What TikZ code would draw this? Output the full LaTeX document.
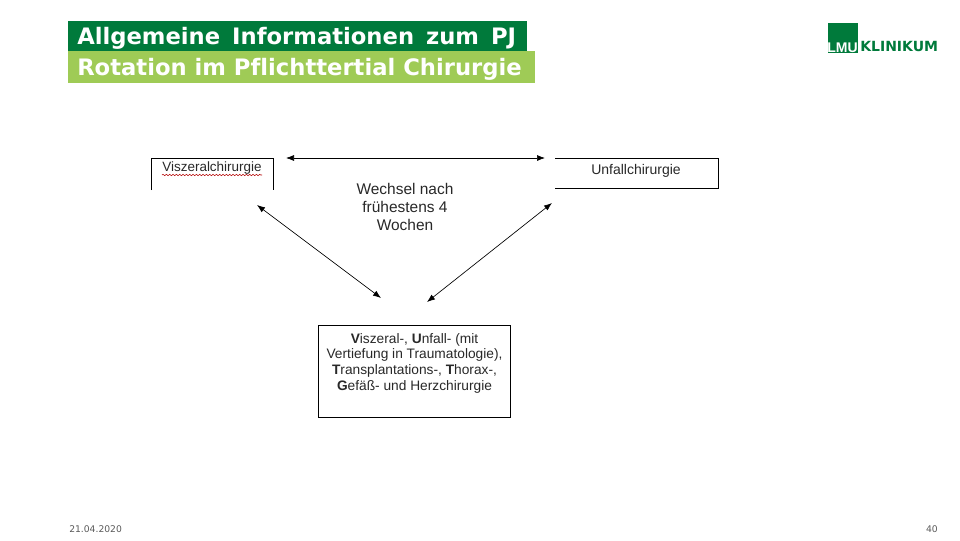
\documentclass[tikz,border=0pt]{standalone}
\usepackage{fontspec}
\setmainfont{Liberation Sans}
\newfontfamily\titlefont[Ligatures=CommonOff]{DejaVu Sans}
\usetikzlibrary{arrows.meta,positioning,decorations.pathmorphing}
\definecolor{lmudark}{RGB}{0,122,59}
\definecolor{lmulight}{RGB}{159,203,86}
\definecolor{boxtext}{RGB}{40,40,40}
\begin{document}
\begin{tikzpicture}[
  x=0.75pt,y=-0.75pt,
  titlebar/.style={anchor=west,inner sep=0pt,text=white,font=\titlefont\bfseries\fontsize{17}{20}\selectfont},
  boxlabel/.style={inner sep=0pt,text=boxtext,font=\fontsize{10.3}{11.8}\selectfont,align=center},
  footer/.style={inner sep=0pt,text=black!65,font=\titlefont\fontsize{6.9}{8}\selectfont},
  frame/.style={draw=black,line width=0.75pt},
  swap/.style={black,line width=0.5pt,{Latex[length=6pt,width=4.5pt]}-{Latex[length=6pt,width=4.5pt]}},
  ]
  \useasboundingbox (0,0) rectangle (960,540);
  %Title
  \fill[lmudark] (68,21) rectangle (527,51);
  \fill[lmulight] (68,51) rectangle (535,83);
  \node[titlebar,execute at begin node={\spaceskip=9pt}](title1) at (77,38.5){Allgemeine Informationen zum PJ};
  \node[titlebar](title2) at (77,69.5){Rotation im Pflichttertial Chirurgie};
  %Logo
  \node[fill=lmudark,minimum size=22.5pt,inner sep=0pt](logo) at (842.5,38){};
  \node[inner sep=0pt,text=white,font=\bfseries\fontsize{10.5}{10.5}\selectfont,anchor=base](lmu) at (842.5,52.5){LMU};
  \node[inner sep=0pt,text=lmudark,font=\titlefont\bfseries\fontsize{10.5}{11}\selectfont,anchor=west](klinikum) at (860,46){KLINIKUM};
  %Nodes
  \node[boxlabel,font=\fontsize{10.1}{12}\selectfont](visz) at (212,168.5){Viszeralchirurgie};
  \node[boxlabel,font=\fontsize{10.5}{12}\selectfont](unfall) at (636,171){Unfallchirurgie};
  \node[boxlabel,font=\fontsize{11.6}{13.5}\selectfont](wechsel) at (405,207){Wechsel nach\\frühestens 4\\Wochen};
  \node[frame,boxlabel,minimum width=144pt,minimum height=69pt](fach) at (414.5,371){};
  \node[boxlabel,anchor=north](fachtext) at (414.5,333){\textbf{V}iszeral-, \textbf{U}nfall- (mit\\Vertiefung in Traumatologie),\\\textbf{T}ransplantations-, \textbf{T}horax-,\\\textbf{G}efäß- und Herzchirurgie};
  \coordinate (vl) at (151,190);
  \coordinate (vr) at (273,190);
  \coordinate (ul) at (555,158);
  \coordinate (ub) at (555,188);
  \coordinate (a1) at (286,158);
  \coordinate (a2) at (545,158);
  \coordinate (a3) at (257,205);
  \coordinate (a4) at (381,298);
  \coordinate (a5) at (552,203);
  \coordinate (a6) at (427,302);
  \coordinate (w1) at (162,175);
  \coordinate (w2) at (262,175);
  %Lines
  \draw[frame] (vl) |- (vr |- a1) -- (vr);
  \draw[frame] (ul) -| (718,188) -- (ub);
  \draw[red!70!black,line width=0.4pt,decorate,decoration={snake,amplitude=0.5pt,segment length=2.5pt}] (w1) -- (w2);
  \draw[swap] (a1) -- (a2);
  \draw[swap] (a3) -- (a4);
  \draw[swap] (a5) -- (a6);
  %Footer
  \node[footer,anchor=west](date) at (69,529){21.04.2020};
  \node[footer,anchor=east](page) at (938,529){40};
\end{tikzpicture}
\end{document}
